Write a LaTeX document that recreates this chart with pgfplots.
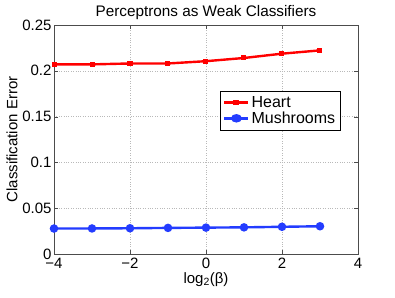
\documentclass[border=0pt]{standalone}
\usepackage{fontspec}
\setmainfont{Liberation Sans}
\usepackage{pgfplots}
\pgfplotsset{compat=1.18}
\begin{document}
\begin{tikzpicture}
\begin{axis}[
  at={(0,0)}, anchor=south west,
  scale only axis, width=304pt, height=229pt,
  xmin=-4, xmax=4, ymin=0, ymax=0.25,
  xtick={-4,-2,0,2,4},
  xticklabels={−4,−2,0,2,4},
  ytick={0,0.05,0.1,0.15,0.2,0.25},
  yticklabels={0,0.05,0.1,0.15,0.2,0.25},
  tick align=inside, tick pos=both,
  major tick length=4pt,
  grid=major,
  major grid style={dotted, gray!55, line width=0.6pt},
  axis line style={gray!60!black, line width=0.6pt},
  tick style={gray!60!black},
  title={Perceptrons as Weak Classifiers},
  title style={font=\fontsize{15.3}{17}\selectfont, yshift=-4pt},
  xlabel={log\textsubscript{2}(β)},
  ylabel={Classification Error},
  xticklabel style={font=\fontsize{15}{17}\selectfont, yshift=-3pt, inner ysep=1pt},
  yticklabel style={font=\fontsize{15}{17}\selectfont, xshift=1pt, inner ysep=1pt},
  xlabel style={font=\fontsize{15}{17}\selectfont, yshift=1pt},
  ylabel style={font=\fontsize{15}{17}\selectfont, yshift=-2pt},
  legend style={at={(0.546,0.712)}, anchor=north west, draw=black, line width=0.6pt,
    font=\fontsize{16}{18}\selectfont, row sep=-1pt, inner sep=3pt},
  legend image post style={xscale=1.4},
  legend cell align=left,
]
\addplot[red, line width=2.4pt, mark=square*, mark size=1.3pt] coordinates {
(-4,0.207) (-3,0.207) (-2,0.208) (-1,0.208) (0,0.2105) (1,0.214) (2,0.2187) (3,0.2223)};
\addlegendentry{Heart}
\addplot[color={rgb,255:red,35;green,60;blue,255}, line width=2.4pt, mark=*, mark size=3pt] coordinates {
(-4,0.0278) (-3,0.0279) (-2,0.0281) (-1,0.0285) (0,0.0288) (1,0.0291) (2,0.0297) (3,0.0303)};
\addlegendentry{Mushrooms}
\end{axis}
\path[use as bounding box] (-54pt,-43pt) rectangle (341pt,254pt);
\end{tikzpicture}
\end{document}
